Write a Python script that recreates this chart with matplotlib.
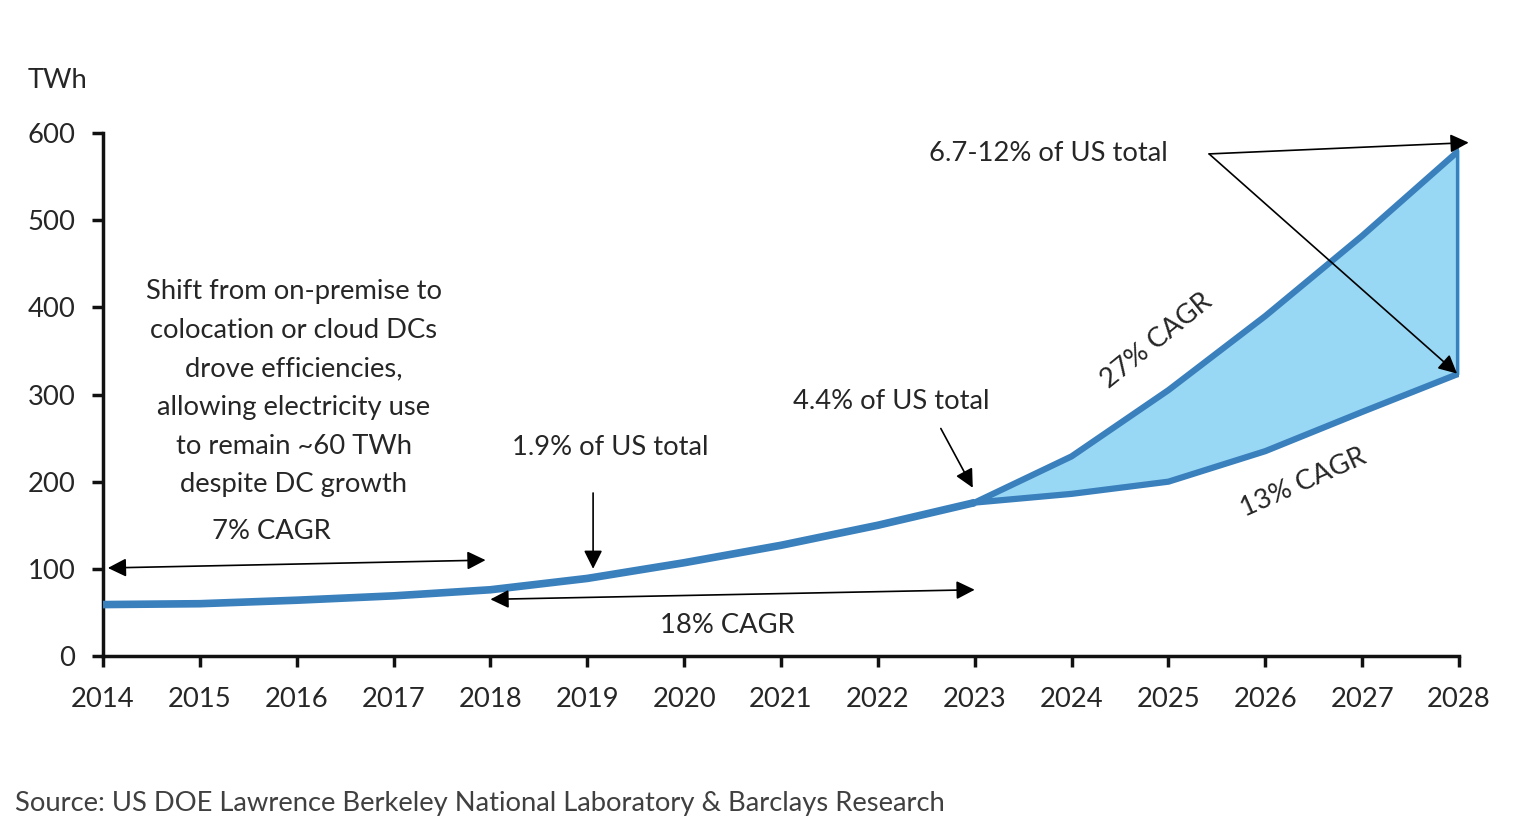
import numpy as np
import matplotlib.pyplot as plt

plt.rcParams['font.family'] = ['Lato', 'DejaVu Sans']

years = [2014, 2015, 2016, 2017, 2018, 2019, 2020, 2021, 2022, 2023]
hist_twh = [59, 60, 64, 69, 76, 89, 107, 127, 150, 176]
proj_years = [2023, 2024, 2025, 2026, 2027, 2028]
high_twh = [176, 229, 305, 390, 482, 580]
low_twh = [176, 186, 200, 235, 280, 324]
yticks = [0, 100, 200, 300, 400, 500, 600]

BLUE = "#3a80bd"
FILL = "#99d8f5"
TXT = "#262626"
FS = 19.7

fig = plt.figure(figsize=(15.14, 8.22), dpi=100)
ax = fig.add_axes([103/1514, 1-656/822, (1459-103)/1514, (656-133)/822])

ax.fill_between(proj_years, low_twh, high_twh, color=FILL, zorder=1)
ax.plot(years, hist_twh, color=BLUE, lw=5.5, solid_capstyle="butt", zorder=3)
ax.plot(proj_years, high_twh, color=BLUE, lw=4.5, zorder=3)
ax.plot(proj_years, low_twh, color=BLUE, lw=4.5, zorder=3)
ax.plot([proj_years[-1]] * 2, [low_twh[-1], high_twh[-1]], color=BLUE, lw=4.5, zorder=3)

ax.set_xlim(2014, 2028)
ax.set_ylim(0, 600)
ax.set_xticks(range(2014, 2029))
ax.set_yticks(yticks)
for s in ["top", "right"]:
    ax.spines[s].set_visible(False)
for s in ["left", "bottom"]:
    ax.spines[s].set_linewidth(2.5)
    ax.spines[s].set_color("#111111")
ax.tick_params(axis="both", direction="out", length=8, width=2.5, color="#111111",
               labelsize=FS, labelcolor=TXT)
ax.tick_params(axis="x", pad=14)
ax.tick_params(axis="y", pad=12)

def tx(x, y, s, **kw):
    ax.text(x, y, s, fontsize=FS, color=TXT, ha="center", va="center", **kw)

def arrow(p0, p1, both=False):
    ax.annotate("", xy=p1, xytext=p0, annotation_clip=False,
                arrowprops=dict(arrowstyle="<|-|>" if both else "-|>", color="black",
                                lw=1.2, mutation_scale=28, shrinkA=0, shrinkB=0))

fig.text(28/1514, 1-80/822, "TWh", fontsize=FS, color=TXT, va="center")
tx(2015.97, 307, "Shift from on-premise to\ncolocation or cloud DCs\ndrove efficiencies,\n"
   "allowing electricity use\nto remain ~60 TWh\ndespite DC growth", linespacing=1.68)
tx(2015.74, 143, "7% CAGR")
tx(2019.24, 239, "1.9% of US total")
tx(2022.14, 292, "4.4% of US total")
tx(2023.76, 576, "6.7-12% of US total")
tx(2024.88, 362, "27% CAGR", rotation=39)
tx(2026.39, 199, "13% CAGR", rotation=24)
tx(2020.45, 35, "18% CAGR")

arrow((2014.05, 101), (2017.95, 110), both=True)
arrow((2018.0, 65), (2023.0, 76), both=True)
arrow((2019.06, 187), (2019.06, 100))
arrow((2022.65, 261), (2022.98, 193))
arrow((2025.42, 576), (2028.1, 589))
arrow((2025.42, 576), (2027.98, 324))

fig.text(15/1514, 1-803/822, "Source: US DOE Lawrence Berkeley National Laboratory & Barclays Research",
         fontsize=FS, color="#404040", va="center")

fig.savefig("out.png", dpi=100, facecolor="white")
